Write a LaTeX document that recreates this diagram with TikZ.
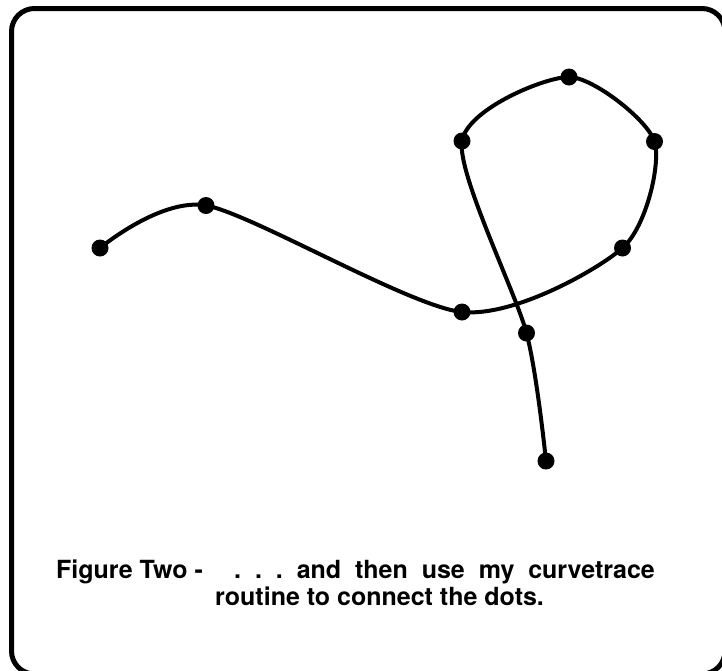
\documentclass[tikz,border=0pt]{standalone}
\usepackage{fontspec}
\setmainfont{TeX Gyre Heros}
\begin{document}
\begin{tikzpicture}[x=1pt,y=-1pt,
  dotnode/.style={circle,fill=black,draw=none,minimum size=17pt,inner sep=0pt},
  trace/.style={line width=4pt,line cap=round,line join=round},
  frame/.style={line width=5pt,rounded corners=23pt},
  caption/.style={anchor=base west,inner sep=0pt,font=\fontsize{25}{30}\selectfont\bfseries}]
\useasboundingbox (0,0) rectangle (722,670);
\draw[frame] (11.5,8.5) rectangle (725,674);
\coordinate (c1) at (100,248);
\coordinate (c2) at (206,205.5);
\coordinate (c3) at (462,312);
\coordinate (c4) at (622.5,248);
\coordinate (c5) at (654.5,141.5);
\coordinate (c6) at (569,77);
\coordinate (c7) at (462,141);
\coordinate (c8) at (526.5,333);
\coordinate (c9) at (546,461);
\draw[trace] plot[smooth,tension=0.45] coordinates {(c1) (c2) (c3) (c4) (c5) (c6) (c7) (c8) (c9)};
\foreach \i in {1,...,9} {\node[dotnode] (p\i) at (c\i) {};}
\node[caption] (t1) at (56,578) {Figure Two -\hspace{31.4pt}.\ \ .\ \ .\ \ and\ \ then\ \ use\ \ my\ \ curvetrace};
\node[caption] (t2) at (215,605) {routine to connect the dots.};
\end{tikzpicture}
\end{document}
